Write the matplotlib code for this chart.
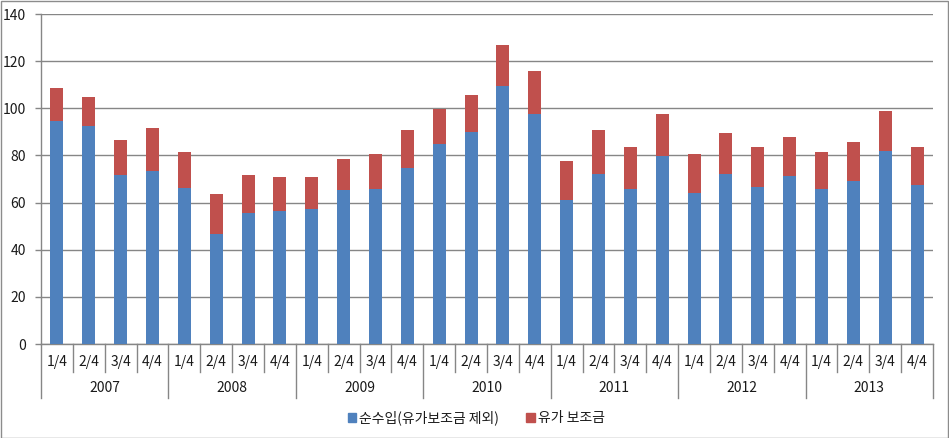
import matplotlib
matplotlib.use("Agg")
import matplotlib.pyplot as plt
import matplotlib.transforms as mtransforms
from matplotlib.patches import Patch, Rectangle

plt.rcParams["font.family"] = ["Noto Sans CJK KR", "DejaVu Sans"]

years = ["2007", "2008", "2009", "2010", "2011", "2012", "2013"]
quarters = ["1/4", "2/4", "3/4", "4/4"]

net_income = [94.6, 92.5, 71.7, 73.5,
              66.2, 46.7, 55.7, 56.4,
              57.3, 65.3, 65.8, 74.7,
              84.9, 90.0, 109.5, 97.6,
              61.1, 72.1, 65.6, 79.8,
              64.2, 72.1, 66.5, 71.3,
              65.6, 69.2, 82.0, 67.5]
fuel_subsidy = [14.0, 12.3, 14.9, 18.2,
                15.3, 16.9, 16.0, 14.5,
                13.6, 13.2, 14.8, 16.1,
                14.8, 15.7, 17.4, 18.2,
                16.6, 18.7, 18.0, 17.8,
                16.4, 17.4, 17.1, 16.5,
                15.9, 16.5, 16.9, 16.1]

series_names = ["순수입(유가보조금 제외)", "유가 보조금"]
blue = "#4F81BD"
red = "#C0504D"
line_grey = "#868686"
text_col = "#1A1A1A"

W, H = 949, 438
fig = plt.figure(figsize=(W / 100, H / 100), dpi=100)
ax = fig.add_axes([41 / W, 1 - 344 / H, (933 - 41) / W, (344 - 14) / H])

n = len(net_income)
x = list(range(n))
ax.bar(x, net_income, width=0.41, color=blue, zorder=3)
ax.bar(x, fuel_subsidy, width=0.41, bottom=net_income, color=red, zorder=3)

ax.set_xlim(-0.5, n - 0.5)
ax.set_ylim(0, 140)
ax.set_yticks(range(0, 141, 20))
ax.grid(True, axis="y", color=line_grey, linewidth=1, zorder=0)
ax.tick_params(axis="y", length=4, width=1, color=line_grey, pad=7,
               labelsize=10, labelcolor=text_col)
ax.set_xticks([])
for s in ["top", "right"]:
    ax.spines[s].set_visible(False)
for s in ["left", "bottom"]:
    ax.spines[s].set_color(line_grey)
    ax.spines[s].set_linewidth(1)

# multi-level category axis
trans = mtransforms.blended_transform_factory(ax.transData, ax.transAxes)
ax_h = 344 - 14
q_drop = -(372 - 344) / ax_h
y_drop = -(398 - 344) / ax_h
for i in range(n + 1):
    bottom = y_drop if i % 4 == 0 else q_drop
    ax.plot([i - 0.5, i - 0.5], [0, bottom], color=line_grey, linewidth=1,
            transform=trans, clip_on=False)
for i in range(n):
    ax.text(i, -(362 - 344) / ax_h, quarters[i % 4], transform=trans,
            ha="center", va="center", fontsize=10, color=text_col)
for k, yr in enumerate(years):
    ax.text(4 * k + 1.5, -(388 - 344) / ax_h, yr, transform=trans,
            ha="center", va="center", fontsize=10, color=text_col)

handles = [Patch(color=blue, label=series_names[0]),
           Patch(color=red, label=series_names[1])]
fig.legend(handles=handles, loc="center", bbox_to_anchor=(476 / W, 1 - 418 / H),
           ncol=2, frameon=False, fontsize=10, handlelength=0.6, handleheight=0.6,
           handletextpad=0.2, columnspacing=2.0, labelcolor=text_col)

fig.patches.append(Rectangle((0.5 / W, 0.5 / H), 1 - 1.5 / W, 1 - 1.5 / H,
                             transform=fig.transFigure, fill=False,
                             edgecolor="#8C8C8C", linewidth=1))

fig.savefig("out.png", dpi=100, facecolor="white")
